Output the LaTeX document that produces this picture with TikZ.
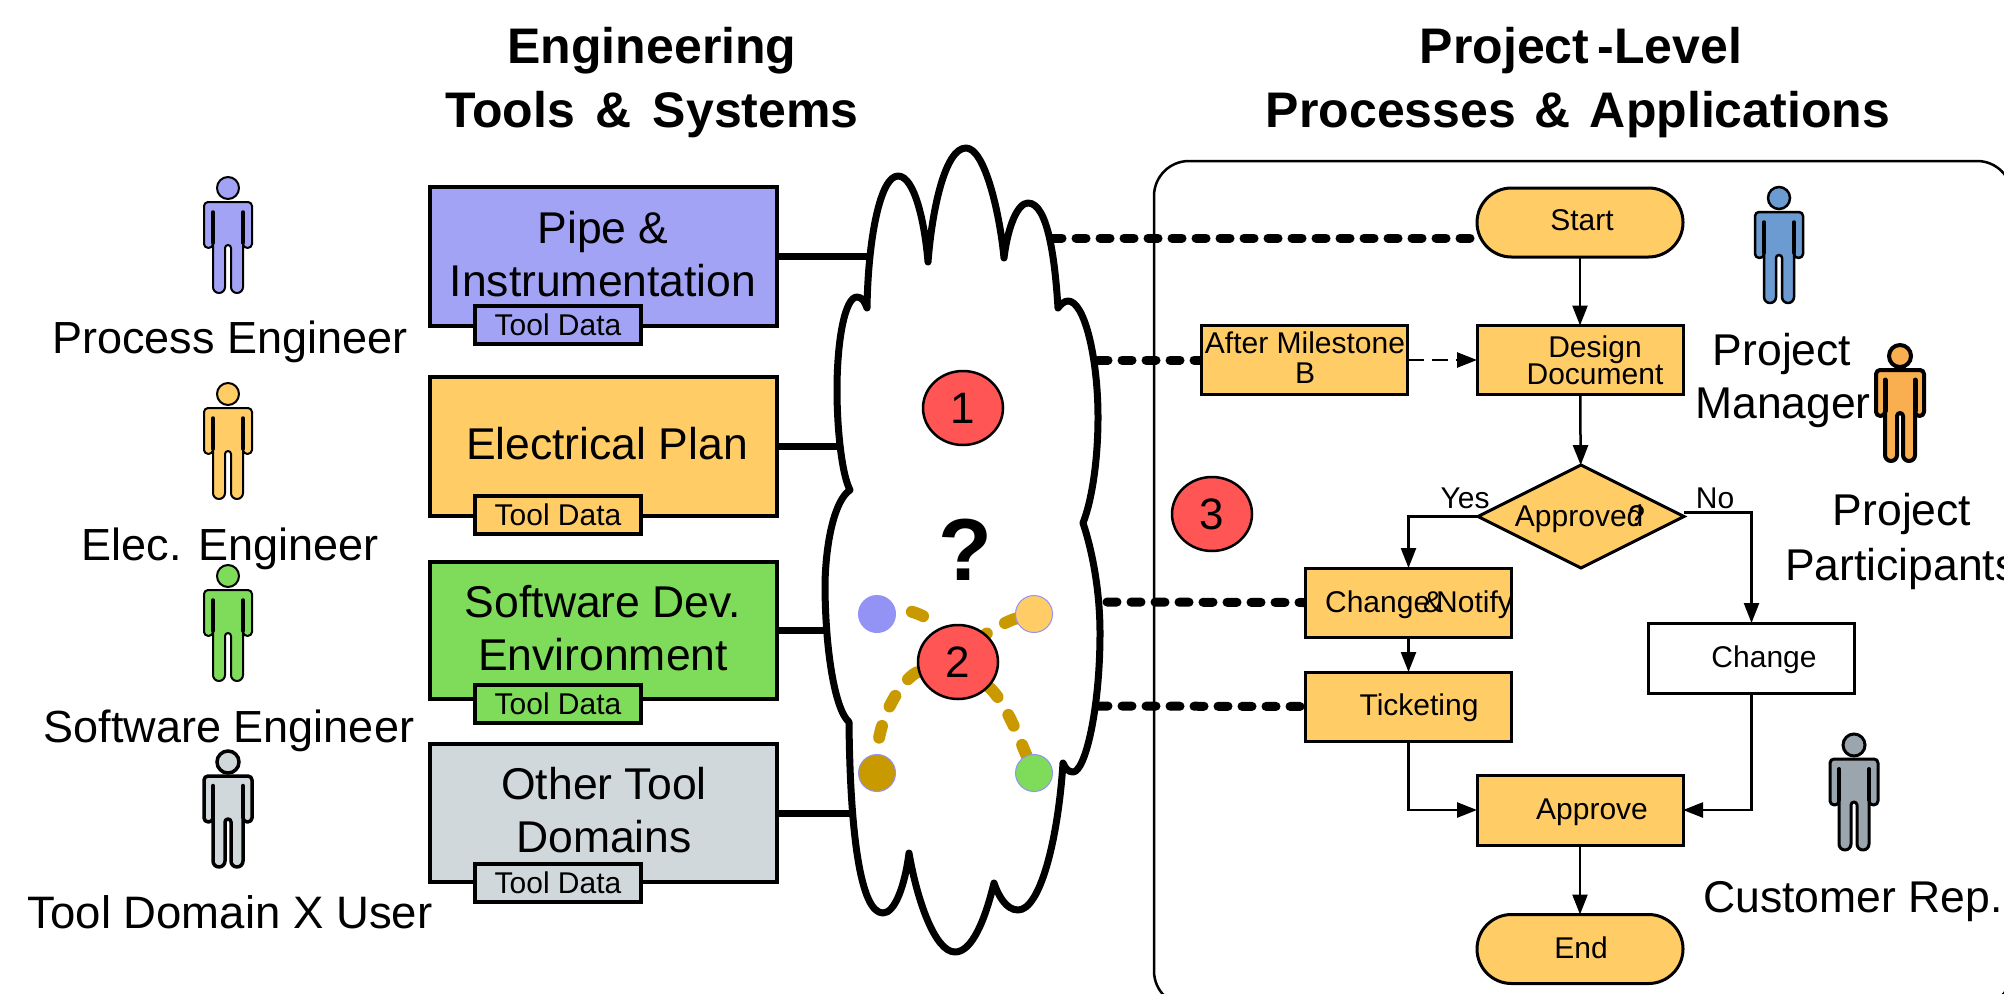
\documentclass[tikz,border=0pt]{standalone}
\usepackage{fontspec}
\setmainfont{Liberation Sans}
\usetikzlibrary{shapes.geometric,shapes.misc,arrows.meta,backgrounds}
\newcommand{\fsz}[1]{\fontsize{#1pt}{#1pt}\selectfont}
\definecolor{cblue}{HTML}{A3A3F5}
\definecolor{corange}{HTML}{FFCC66}
\definecolor{cgreen}{HTML}{7FDB5A}
\definecolor{cgray}{HTML}{D0D8DC}
\definecolor{cred}{HTML}{FF5555}
\definecolor{cbrown}{HTML}{C99900}
\definecolor{pblue}{HTML}{6C9BD2}
\definecolor{porange}{HTML}{F9AE4F}
\definecolor{pgray}{HTML}{9AA5AE}
\newcommand{\person}[4]{%
  \begin{scope}[shift={(#1)},line width=#3pt,draw=black,fill=#2]
    \draw[fill=#2] (0,0) circle[radius=11];
    \draw[fill=#2,line join=round] (-20,14) -- (20,14) arc[start angle=-90,end angle=0,radius=4] -- (24,56) arc[start angle=0,end angle=180,x radius=4.5,y radius=4] -- (15,99) arc[start angle=0,end angle=180,radius=6] -- (3,60) arc[start angle=0,end angle=-180,radius=3] -- (-3,99) arc[start angle=0,end angle=180,radius=6] -- (-15,56) arc[start angle=0,end angle=180,x radius=4.5,y radius=4] -- (-24,18) arc[start angle=180,end angle=270,radius=4] -- cycle;
    \draw[line width=#4pt,line cap=round] (-15,24)--(-15,55) (15,24)--(15,55);
  \end{scope}}
\tikzset{
  x=1pt,y=-1pt,
  every node/.style={inner sep=0pt,outer sep=0pt},
  ttl/.style={text height=36pt,text depth=0pt,font=\fsz{50}\bfseries},
  big/.style={text height=32pt,text depth=0pt,font=\fsz{45}},
  boxlbl/.style={align=center,font=\fsz{44.5}},
  lbl/.style={text height=21.6pt,text depth=0pt,font=\fsz{30}},
  mlbl/.style={align=center,font=\fsz{30}},
  tool/.style={draw,line width=4pt,minimum width=347pt},
  tdata/.style={draw,line width=4pt,minimum width=166pt,minimum height=38pt,font=\fsz{30}},
  flow/.style={draw,line width=3pt,fill=corange,minimum width=206pt,minimum height=69pt},
  stadium/.style={flow,rounded rectangle,line width=3pt},
  num/.style={draw,ellipse,line width=2.5pt,fill=cred,minimum width=80pt,minimum height=74pt,font=\fsz{44}},
  dot/.style={circle,draw=cblue!90!blue,line width=1pt,minimum size=37pt},
  arr/.style={line width=2.5pt,-{Triangle[length=20pt,width=15pt]}},
  link/.style={line width=9pt,line cap=round,dash pattern=on 10pt off 14pt},
  bus/.style={line width=7pt},
  spoke/.style={draw=cbrown,line width=12pt,line cap=round,dash pattern=on 12pt off 21pt},
}
\begin{document}
\begin{tikzpicture}
\useasboundingbox (0,0) rectangle (2004,993);
\clip (0,0) rectangle (2004,993);

% left tool boxes
\node[tool,fill=cblue,minimum height=139pt] (p1) at (603.5,256.5) {};
\node[tool,fill=corange,minimum height=139pt] (p2) at (603.5,446.5) {};
\node[tool,fill=cgreen,minimum height=137pt] (p3) at (603.5,630.5) {};
\node[tool,fill=cgray,minimum height=138pt] (p4) at (603.5,813) {};
\node[boxlbl] (p1t) at (603,254) {Pipe \&\\[9pt]Instrumentation};
\node[boxlbl] (p2t) at (607,444) {Electrical Plan};
\node[boxlbl] (p3t) at (603,628) {Software Dev.\\[9pt]Environment};
\node[boxlbl] (p4t) at (604,810) {Other Tool\\[9pt]Domains};
\node[tdata,fill=cblue] (d1) at (558,325) {Tool Data};
\node[tdata,fill=corange] (d2) at (558,515) {Tool Data};
\node[tdata,fill=cgreen] (d3) at (558,704) {Tool Data};
\node[tdata,fill=cgray] (d4) at (558,883) {Tool Data};

% persons
\person{228,188}{cblue}{2}{3.5}
\person{228,394}{corange}{2}{3.5}
\person{228,576}{cgreen}{2}{3.5}
\person{228,762}{cgray}{3.5}{4.5}
\person{1779,198}{pblue}{2.5}{3.5}
\person{1900,356}{porange}{4}{5}
\person{1854,745}{pgray}{3}{4}

\node[big] (n1) at (230,337) {Process Engineer};
\node[big] (n2) at (230,544) {Elec. Engineer};
\node[big] (n3) at (229,726) {Software Engineer};
\node[big,font=\fsz{45.5}] (n4) at (230,912) {Tool Domain X User};
\node[big,font=\fsz{44.5}] (n5) at (1782,349) {Project};
\node[big,font=\fsz{44.5}] (n6) at (1783,402) {Manager};
\node[big,font=\fsz{44.5}] (n7) at (1902,509) {Project};
\node[big,font=\fsz{44.5},anchor=west] (n8) at (1785,564) {Participants};
\node[big,font=\fsz{44.5}] (n9) at (1853,896) {Customer Rep.};

% titles
\node[ttl] (t1) at (652,45) {Engineering};
\node[ttl] (t2) at (652,109) {Tools\hspace{7pt} \&\hspace{7pt} Systems};
\node[ttl] (t3) at (1581,45) {Project\,-Level};
\node[ttl] (t4) at (1578,109) {Processes\hspace{5pt} \&\hspace{5pt} Applications};

% flow nodes
\node[stadium] (start) at (1580,222.5) {};
\node[lbl] (startt) at (1582,220) {Start};
\node[flow] (design) at (1580,360) {};
\node[mlbl] (designt) at (1595,360) {Design\\[-3pt]Document};
\node[flow] (after) at (1304.5,360) {};
\node[mlbl] (aftert) at (1305,358) {After Milestone\\[0pt]B};
\node[draw,diamond,aspect=2,line width=3pt,fill=corange,minimum width=206pt,minimum height=103pt] (appr) at (1581,516.5) {};
\node[lbl] (apprt) at (1580,516) {Approved\kern-15pt ?};
\node[flow] (chg) at (1408.5,602.5) {};
\node[lbl] (chgt) at (1419,602) {Change\kern-7pt\&\kern-7pt Notify};
\node[flow] (tick) at (1408.5,706.5) {};
\node[lbl] (tickt) at (1419,705) {Ticketing};
\node[flow,fill=white,minimum height=70pt] (change) at (1751.5,658) {};
\node[lbl] (changet) at (1764,657) {Change};
\node[flow,minimum height=70pt] (approve) at (1580,810) {};
\node[lbl] (approvet) at (1592,809) {Approve};
\node[stadium] (end) at (1580,949) {};
\node[lbl] (endt) at (1581,948) {End};

\node[lbl] (yes) at (1465,498) {Yes};
\node[lbl] (no) at (1715,498) {No};

% cloud contents
\node[text height=64pt,text depth=0pt,font=\fsz{88}\bfseries] (q) at (965,548) {?};
\node[num] (one) at (963,408) {1};
\node[num] (two) at (958,662) {2};
\node[num] (three) at (1212,514) {3};
\node[dot,fill=cblue!90!blue] (dblue) at (877,614) {};
\node[dot,fill=corange] (dorange) at (1034,614) {};
\node[dot,fill=cbrown] (dbrown) at (877,773) {};
\node[dot,fill=cgreen] (dgreen) at (1034,773) {};

\coordinate (e1) at (1052,238);
\coordinate (e2) at (1098,360);
\coordinate (e3) at (1107,602);
\coordinate (e4) at (1098,706);
\coordinate (c1) at (880,256.5);
\coordinate (c2) at (850,446.5);
\coordinate (c3) at (835,630.5);
\coordinate (c4) at (860,813);

\begin{scope}[on background layer]
  \draw[line width=2.5pt,rounded corners=35pt] (1154,161) rectangle (2012,1006);
  \draw[link] (e1) -- (e1 -| start.west);
  \draw[link] (e2) -- (after.west);
  \draw[link] (e3) -- (chg.west);
  \draw[link] (e4) -- (tick.west);
  \draw[bus] (p1.east) -- (c1);
  \draw[bus] (p2.east) -- (c2);
  \draw[bus] (p3.east) -- (c3);
  \draw[bus] (p4.east) -- (c4);
  \draw[line width=7pt,fill=white,line join=round] (867,308)
    .. controls (868,240) and (880,176) .. (898,176)
    .. controls (915,176) and (925,225) .. (928,262)
    .. controls (932,210) and (945,148) .. (966,148)
    .. controls (985,148) and (1000,215) .. (1004,258)
    .. controls (1008,225) and (1018,203) .. (1028,203)
    .. controls (1048,203) and (1055,260) .. (1058,308)
    .. controls (1060,305) and (1064,301) .. (1068,301)
    .. controls (1085,301) and (1098,360) .. (1098,417)
    .. controls (1098,460) and (1092,500) .. (1083,523)
    .. controls (1092,550) and (1100,590) .. (1100,633)
    .. controls (1100,710) and (1085,772) .. (1073,772)
    .. controls (1068,772) and (1065,768) .. (1063,763)
    .. controls (1058,840) and (1040,910) .. (1018,910)
    .. controls (1006,910) and (998,895) .. (994,883)
    .. controls (985,920) and (972,952) .. (955,952)
    .. controls (935,952) and (917,900) .. (909,853)
    .. controls (905,885) and (895,913) .. (883,913)
    .. controls (860,913) and (850,830) .. (849,722)
    .. controls (835,710) and (825,650) .. (825,583)
    .. controls (826,540) and (835,500) .. (850,490)
    .. controls (842,475) and (837,430) .. (837,390)
    .. controls (837,340) and (845,297) .. (857,297)
    .. controls (862,297) and (865,302) .. (867,308) -- cycle;
  \draw[spoke,dash phase=16pt] (dblue) .. controls (905,608) and (930,615) .. (two);
  \draw[spoke] (dorange) .. controls (1010,620) and (990,630) .. (two);
  \draw[spoke,dash phase=16pt] (dbrown) .. controls (878,715) and (905,675) .. (two);
  \draw[spoke] (dgreen) .. controls (1022,745) and (1005,700) .. (two);
\end{scope}

% flow connectors
\draw[arr] (start) -- (design);
\draw[arr] (design) -- (appr);
\draw[arr,dash pattern=on 16pt off 8pt] (after) -- (design);
\draw[arr] (appr.west) -| (chg.north);
\draw[arr] (chg) -- (tick);
\draw[arr] ([yshift=4pt]appr.east) -| (change.north);
\draw[arr] (tick.south) |- (approve.west);
\draw[arr] (change.south) |- (approve.east);
\draw[arr] (approve) -- (end);
\end{tikzpicture}
\end{document}
